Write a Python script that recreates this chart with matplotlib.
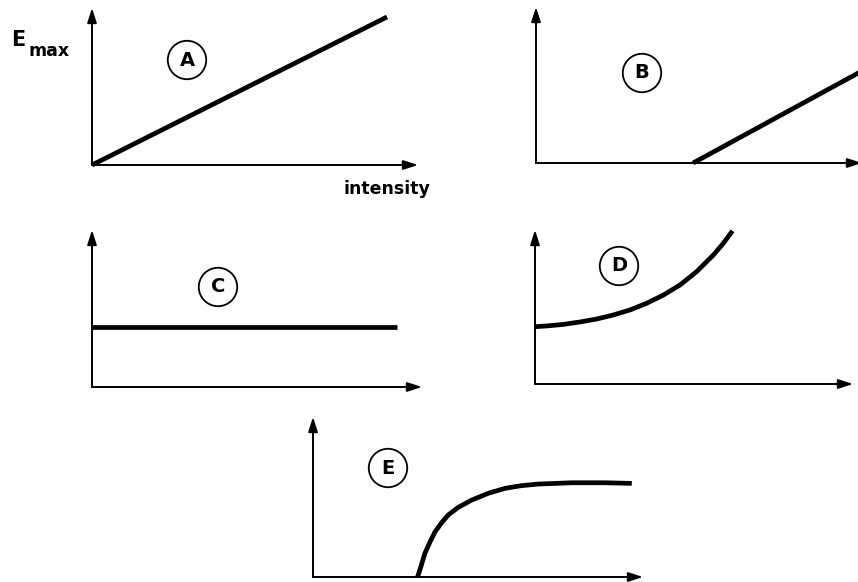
import matplotlib
matplotlib.use("Agg")
import matplotlib.pyplot as plt

W, H = 858, 582

# ---- data (each panel in its own 0..10 units) ----
a_x = [0.0, 9.05]
a_y = [0.0, 9.43]

b_x = [4.82, 10.0]
b_y = [0.0, 5.9]

c_x = [0.0, 9.24]
c_y = [3.82, 3.82]

d_x = [0.0, 0.37, 0.89, 1.42, 1.94, 2.46, 2.99, 3.51, 4.04, 4.56, 5.08, 5.61, 5.92, 6.21]
d_y = [3.72, 3.77, 3.87, 4.03, 4.22, 4.48, 4.81, 5.24, 5.78, 6.43, 7.29, 8.38, 9.13, 9.94]

e_x = [3.17, 3.27, 3.39, 3.55, 3.70, 3.90, 4.10, 4.40, 4.81, 5.31, 5.82, 6.32, 6.83, 7.84, 8.85, 9.66]
e_y = [0.0, 0.65, 1.48, 2.21, 2.83, 3.40, 3.88, 4.35, 4.81, 5.23, 5.54, 5.71, 5.81, 5.89, 5.89, 5.85]

panel_labels = ["A", "B", "C", "D", "E"]
y_label = ("E", "max")
x_label = "intensity"

fig = plt.figure(figsize=(W / 100, H / 100), dpi=100)
fig.patch.set_facecolor("white")

# panel placement in pixels: origin x, origin y, width, height
panels = [
    (92, 165, 326, 157),
    (536, 163, 326, 156),
    (92, 387, 330, 157),
    (535, 384, 318, 154),
    (313, 577, 330, 160),
]
series = [(a_x, a_y), (b_x, b_y), (c_x, c_y), (d_x, d_y), (e_x, e_y)]
label_pos = [(187, 60), (642, 73), (218, 287), (619, 266), (388, 468)]

for (ox, oy, w, h), (xs, ys), lab, (lx, ly) in zip(panels, series, panel_labels, label_pos):
    ax = fig.add_axes([ox / W, 1 - oy / H, w / W, h / H])
    ax.set_xlim(0, 10)
    ax.set_ylim(0, 10)
    ax.axis("off")
    ap = dict(arrowstyle="-|>,head_length=0.62,head_width=0.2", lw=1.4,
              color="black", shrinkA=0, shrinkB=0, mutation_scale=14)
    ax.annotate("", xy=(10, 0), xytext=(0, 0), arrowprops=ap,
                annotation_clip=False)
    ax.annotate("", xy=(0, 10), xytext=(0, 0), arrowprops=ap,
                annotation_clip=False)
    ax.plot(xs, ys, color="black", lw=3.4, solid_capstyle="butt",
            solid_joinstyle="round", clip_on=False)
    fig.text(lx / W, 1 - ly / H, lab, ha="center", va="center",
             fontsize=14, fontweight="bold", fontfamily="DejaVu Sans",
             bbox=dict(boxstyle="circle,pad=0.5", fc="none", ec="black", lw=1.3))

fig.text(11 / W, 1 - 40 / H, y_label[0], ha="left", va="center", fontsize=15,
         fontweight="bold")
fig.text(28 / W, 1 - 51 / H, y_label[1], ha="left", va="center", fontsize=12.5,
         fontweight="bold")
fig.text(387 / W, 1 - 189 / H, x_label, ha="center", va="center", fontsize=12.5,
         fontweight="bold")

fig.savefig("out.png", dpi=100, facecolor="white")
